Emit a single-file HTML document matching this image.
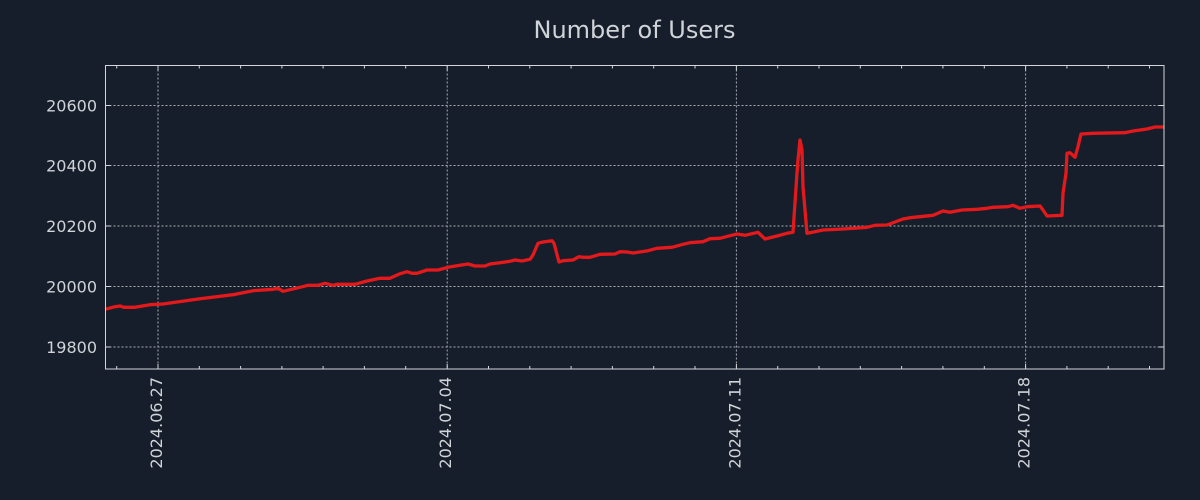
<!DOCTYPE html>
<html>
<head>
<meta charset="utf-8">
<style>
html,body{margin:0;padding:0;background:#161e2b;}
svg{display:block;}
text{font-family:"DejaVu Sans","Liberation Sans",sans-serif;fill:#d0d3d7;}
</style>
</head>
<body>
<svg width="1200" height="500" viewBox="0 0 1200 500" xmlns="http://www.w3.org/2000/svg">
<rect x="0" y="0" width="1200" height="500" fill="#161e2b"/>
<text x="634.5" y="38" font-size="24" text-anchor="middle">Number of Users</text>
<defs><clipPath id="c"><rect x="105.5" y="65.5" width="1058.5" height="303.5"/></clipPath></defs>
<g stroke="#a9adb2" stroke-width="1" stroke-dasharray="2,2" fill="none">
<line x1="105.5" y1="105.5" x2="1164" y2="105.5"/>
<line x1="105.5" y1="165.5" x2="1164" y2="165.5"/>
<line x1="105.5" y1="226" x2="1164" y2="226"/>
<line x1="105.5" y1="286.5" x2="1164" y2="286.5"/>
<line x1="105.5" y1="347" x2="1164" y2="347"/>
<line x1="158" y1="65.5" x2="158" y2="369"/>
<line x1="447.2" y1="65.5" x2="447.2" y2="369"/>
<line x1="736.4" y1="65.5" x2="736.4" y2="369"/>
<line x1="1025.6" y1="65.5" x2="1025.6" y2="369"/>
</g>
<polyline clip-path="url(#c)" fill="none" stroke="#e3191c" stroke-width="3.3" stroke-linejoin="round" points="105,309.3 115,306.7 120,306 124,307.3 135,307.3 150,304.7 163,304 200,298.7 233,294.7 253,290.7 273,289.3 278,288.3 283,291.3 300,287.3 308,285.3 318,285.3 325,283.3 333,285.3 337,284.3 355,284.3 367,281 380,278.3 390,278.3 400,273.8 407,271.7 412,273.3 417,273.3 427,270 438,270 448,267.3 460,265.3 468,264 475,266 485,266 490,264 500,262.7 510,261.3 515,260 522,261 530,259.3 533,255 538,243.3 543,242 552,240.7 554,243.3 559,262 563,260.7 573,260 579,256.7 583,257.3 590,257.3 600,254.3 615,254 620,251.7 627,252 633,253 638,252.3 648,250.7 657,248.3 672,247.3 683,244.3 690,242.7 703,241.7 710,238.7 720,238.3 730,235.7 737,234 745,235.3 758,232.3 765,239 777,236 787,233.3 793,232.3 797,173 798,160 800,140 802,150 803,186.7 805,210 807,233.3 810,232.7 823,230 843,229 867,227.3 875,225.3 887,225 903,219 910,217.7 920,216.7 933,215.3 943,211 950,212.3 962,210 977,209.3 987,208.3 993,207.3 1008,206.7 1013,205.3 1020,208.3 1027,206.7 1040,206 1043,210 1047,216 1062,215.3 1063,193.3 1066,173.3 1067,153.3 1070,152.7 1075,157.3 1078,146.7 1081,134 1093,133.3 1125,132.7 1133,131 1147,129 1155,127 1164,127"/>
<g stroke="#d4d6d9" stroke-width="1" fill="none">
<rect x="105.5" y="65.5" width="1058.5" height="303.5"/>
<path d="M105.5 105.5h5M105.5 165.5h5M105.5 226h5M105.5 286.5h5M105.5 347h5M1164 105.5h-5M1164 165.5h-5M1164 226h-5M1164 286.5h-5M1164 347h-5"/>
<path d="M158 369v-5M447.2 369v-5M736.4 369v-5M1025.6 369v-5M158 65.5v5M447.2 65.5v5M736.4 65.5v5M1025.6 65.5v5"/>
<path d="M116.7 369v-3M199.3 369v-3M240.6 369v-3M281.9 369v-3M323.1 369v-3M364.4 369v-3M405.7 369v-3M488.5 369v-3M529.8 369v-3M571.1 369v-3M612.4 369v-3M653.7 369v-3M695 369v-3M777.7 369v-3M819 369v-3M860.3 369v-3M901.6 369v-3M942.9 369v-3M984.3 369v-3M1066.9 369v-3M1108.2 369v-3M1149.5 369v-3
M116.7 65.5v3M199.3 65.5v3M240.6 65.5v3M281.9 65.5v3M323.1 65.5v3M364.4 65.5v3M405.7 65.5v3M488.5 65.5v3M529.8 65.5v3M571.1 65.5v3M612.4 65.5v3M653.7 65.5v3M695 65.5v3M777.7 65.5v3M819 65.5v3M860.3 65.5v3M901.6 65.5v3M942.9 65.5v3M984.3 65.5v3M1066.9 65.5v3M1108.2 65.5v3M1149.5 65.5v3"/>
</g>
<g font-size="16" text-anchor="end">
<text x="97" y="111.3">20600</text>
<text x="97" y="171.3">20400</text>
<text x="97" y="231.8">20200</text>
<text x="97" y="292.3">20000</text>
<text x="97" y="352.8">19800</text>
</g>
<g font-size="16" text-anchor="end">
<text transform="translate(162,377) rotate(-90)">2024.06.27</text>
<text transform="translate(451.2,377) rotate(-90)">2024.07.04</text>
<text transform="translate(740.4,377) rotate(-90)">2024.07.11</text>
<text transform="translate(1029.6,377) rotate(-90)">2024.07.18</text>
</g>
</svg>
</body>
</html>
